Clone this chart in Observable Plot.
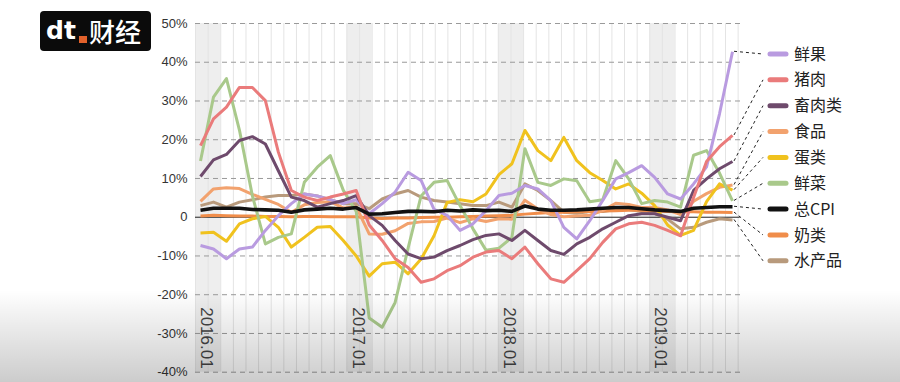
<!DOCTYPE html>
<html><head><meta charset="utf-8">
<script src="https://cdn.jsdelivr.net/npm/d3@7"></script>
<script src="https://cdn.jsdelivr.net/npm/@observablehq/plot@0.6"></script>
<style>
body{margin:0;background:#fff;}
#wrap{position:relative;width:900px;height:382px;overflow:hidden;font-family:"Liberation Sans","Noto Sans CJK SC",sans-serif;}
#logo{position:absolute;left:40px;top:11px;width:111px;height:40px;background:#0b0b0b;border-radius:4px;}
#logo .d{position:absolute;left:6px;top:7px;font:bold 25px/25px "DejaVu Sans",sans-serif;color:#fff;letter-spacing:0px;}
#logo .sq{position:absolute;left:39px;top:25px;width:8px;height:7px;background:#e2612b;}
#logo .cj{position:absolute;left:49px;top:6px;font:500 26px/28px "Noto Sans CJK SC",sans-serif;color:#fff;}
#shade{position:absolute;left:0;top:0;width:900px;height:382px;pointer-events:none;background:linear-gradient(to bottom, rgba(0,0,0,0) 0px, rgba(0,0,0,0) 290px, rgba(0,0,0,0.2) 382px);}
</style></head>
<body><div id="wrap"><div id="chart"></div>
<div id="logo"><span class="d">dt</span><span class="sq"></span><span class="cj">财经</span></div>
<div id="shade"></div></div>
<script>
const months = ["2016.01","2016.02","2016.03","2016.04","2016.05","2016.06","2016.07","2016.08","2016.09","2016.10","2016.11","2016.12",
"2017.01","2017.02","2017.03","2017.04","2017.05","2017.06","2017.07","2017.08","2017.09","2017.10","2017.11","2017.12",
"2018.01","2018.02","2018.03","2018.04","2018.05","2018.06","2018.07","2018.08","2018.09","2018.10","2018.11","2018.12",
"2019.01","2019.02","2019.03","2019.04","2019.05","2019.06"];

const fruit = [-7.3,-8.2,-10.7,-8.2,-7.7,-3.4,0.4,3.5,6,5.5,4.5,3.5, 4.5,0.9,3.5,6.5,11.6,9.5,2,0.5,-3.4,-1.7,1.7,5.6, 6.2,8.2,7.3,4.3,-2.6,-5.6,-0.9,4.3,9.9,11.5,13.3,10.3, 6,4.7,8.6,13,26.7,42.7];
const pork = [18.5,25.4,28.4,33.5,33.5,30.1,16.8,6.9,5.2,4.3,5.2,6, 6.9,-2,-6,-10.7,-13,-16.8,-15.9,-13.8,-12.5,-10.3,-9,-8.6, -10.7,-7.7,-12,-15.9,-16.8,-13.8,-10.7,-6.5,-3,-1.7,-1.3,-2.1, -3.4,-4.8,5.1,14.4,18.2,21.1];
const meat = [10.5,14.8,16.2,19.8,20.8,18.9,12,5.2,4.3,2.6,3.5,4.3, 5.6,0.4,-2.1,-6,-9.5,-10.7,-10.3,-8.6,-7.3,-5.8,-4.7,-4.3, -6,-3.4,-6,-8.6,-9.6,-6.9,-5.2,-3,-1.3,0.4,0.9,0.9, 0,-0.9,6.9,9.9,12.5,14.4];
const food = [4.1,7.3,7.6,7.4,5.9,4.6,3.3,1.3,3.2,3.8,4.0,2.4, 2.7,-4.3,-4.4,-3.5,-1.6,-1.2,-1.1,-0.2,-1.4,-0.4,-1.1,-0.4, -0.5,4.4,2.1,0.7,0.1,0.3,0.5,1.7,3.6,3.3,2.5,2.5, 1.9,0.7,4.1,6.1,7.7,8.3];
const egg = [-4.1,-3.9,-6.2,-1.7,-0.4,0.2,-2.6,-7.7,-5.2,-2.6,-2.4,-6, -10,-15.2,-12,-11.6,-14.6,-10.8,-4.8,3.8,4.5,4,6,11, 13.8,22.4,17.2,14.6,20.6,14.6,11.5,9.5,7.3,8.6,6.2,3, -2,-4.7,-3.4,4,8.6,7];
const veg = [14.5,31,35.8,22.5,5.5,-6.9,-5.2,-4.3,9,12.9,15.9,7, 1.5,-26,-28.4,-22,-8,5.5,9,9.5,3,-3,-8.5,-8, -5.2,17.7,9,8.2,9.9,9.4,4,4.5,14.6,9.9,3.5,4.3, 3.9,2.6,16,17.2,11.4,4.2];
const cpi = [1.8,2.3,2.3,2.3,2.0,1.9,1.8,1.3,1.9,2.1,2.3,2.1, 2.5,0.8,0.9,1.2,1.5,1.5,1.4,1.8,1.6,1.9,1.7,1.8, 1.5,2.9,2.1,1.8,1.8,1.9,2.1,2.3,2.5,2.5,2.2,1.9, 1.7,1.5,2.3,2.5,2.7,2.7];
const dairy = [0.3,0.5,0.4,0.3,0.3,0.2,0.2,0.1,0.2,0.2,0.1,0.1, 0.1,-0.2,-0.3,-0.2,-0.2,-0.1,0,0,0.1,0.2,0.3,0.4, 0.5,0.8,1.0,1.2,1.3,1.4,1.5,1.6,1.7,1.8,1.8,1.6, 1.5,1.4,1.4,1.3,1.3,1.2];
const aquatic = [3,3.9,2.6,3.9,4.5,5.2,5.6,5.6,6,5.5,4.5,3.5, 3.5,2.2,4.7,6,6.9,5.2,4.3,3.9,3.5,3,3,3.9, 2.6,8.6,6.9,4.3,1.3,1,1.5,1.5,2,2,1.5,1, -0.5,-3,-2.6,-1.3,-0.4,-0.7];

const seriesNames = ["鲜果","猪肉","畜肉类","食品","蛋类","鲜菜","总CPI","奶类","水产品"];
const seriesValues = [fruit, pork, meat, food, egg, veg, cpi, dairy, aquatic];
const seriesColors = ["#b99be0","#ea7b7b","#6e4a6c","#f2a26e","#f0c21e","#a9c98b","#111111","#f08d4a","#b89a7c"];
const drawOrder = ["水产品","奶类","食品","蛋类","鲜菜","鲜果","畜肉类","猪肉","总CPI"];
const yearLabels = ["2016.01","2017.01","2018.01","2019.01"];
const yTicks = [-40,-30,-20,-10,0,10,20,30,40,50];

// layout of the background month grid (slightly narrower than data months in the original)
const gridOrigin = -0.385, gridStep = 0.9725, gridCount = 44;

const rows = [];
seriesNames.forEach((name, k) => seriesValues[k].forEach((v, i) => rows.push({name, i, month: months[i], v})));
const colorOf = Object.fromEntries(seriesNames.map((n, k) => [n, seriesColors[k]]));

const bands = yearLabels.map((label, k) => ({label, x1: gridOrigin + 12 * k * gridStep, x2: gridOrigin + (12 * k + 2) * gridStep}));
const gridXs = d3.range(gridCount).map(j => gridOrigin + j * gridStep);

const lineMarks = drawOrder.map(name => Plot.line(rows.filter(r => r.name === name), {
  x: "i", y: "v", stroke: colorOf[name], strokeWidth: name === "总CPI" ? 3.6 : 3,
  strokeLinejoin: "round", strokeLinecap: "butt"
}));

const chart = Plot.plot({
  width: 900, height: 382,
  marginLeft: 200, marginRight: 168, marginTop: 23, marginBottom: 10.3,
  style: {fontFamily: '"Liberation Sans","Noto Sans CJK SC",sans-serif', fontSize: "13px", color: "#333", background: "transparent"},
  x: {domain: [0, months.length - 1], axis: null},
  y: {domain: [-40, 50], ticks: yTicks, tickFormat: d => d === 0 ? "0" : d + "%", tickSize: 0, tickPadding: 13, label: null},
  marks: [
    Plot.rect(bands, {x1: "x1", x2: "x2", y1: -40, y2: 50, fill: "#eeeeee"}),
    Plot.ruleX(gridXs, {y1: -40, y2: 50, stroke: "#e4e4e4", strokeWidth: 1}),
    Plot.ruleY(yTicks.filter(d => d !== 0), {x1: gridOrigin, x2: 41.85, stroke: "#9a9a9a", strokeWidth: 1, strokeDasharray: "5,4"}),
    Plot.ruleY([0], {x1: gridOrigin, x2: 41.6, stroke: "#222", strokeWidth: 1}),
    Plot.text(bands, {x: d => (d.x1 + d.x2) / 2, text: "label", frameAnchor: "bottom", dy: -65, dx: -7, rotate: 90, textAnchor: "start", fontSize: 17, fill: "#444"}),
    ...lineMarks
  ]
});

// legend with dashed leader lines, positioned with the chart's own scales
const xs = chart.scale("x"), ys = chart.scale("y");
const legendTop = 54, legendStep = 25.85, legendX = 768;
const g = d3.select(chart).append("g").attr("text-anchor", "start");
seriesNames.forEach((name, k) => {
  const vals = seriesValues[k];
  const n = vals.length - 1;
  const ly = legendTop + k * legendStep;
  g.append("line")
    .attr("x1", xs.apply(n) + 2).attr("y1", ys.apply(vals[n]))
    .attr("x2", legendX - 5).attr("y2", ly)
    .attr("stroke", "#222").attr("stroke-width", 1).attr("stroke-dasharray", "3,3");
  g.append("line")
    .attr("x1", legendX + 2).attr("x2", legendX + 18).attr("y1", ly).attr("y2", ly)
    .attr("stroke", seriesColors[k]).attr("stroke-width", 5).attr("stroke-linecap", "round");
  g.append("text")
    .attr("x", legendX + 26).attr("y", ly).attr("dy", "0.35em").attr("text-anchor", "start")
    .attr("font-family", '"Noto Sans CJK SC",sans-serif').attr("font-size", 16).attr("fill", "#222")
    .text(name);
});

document.getElementById("chart").append(chart);
</script>
</body></html>
